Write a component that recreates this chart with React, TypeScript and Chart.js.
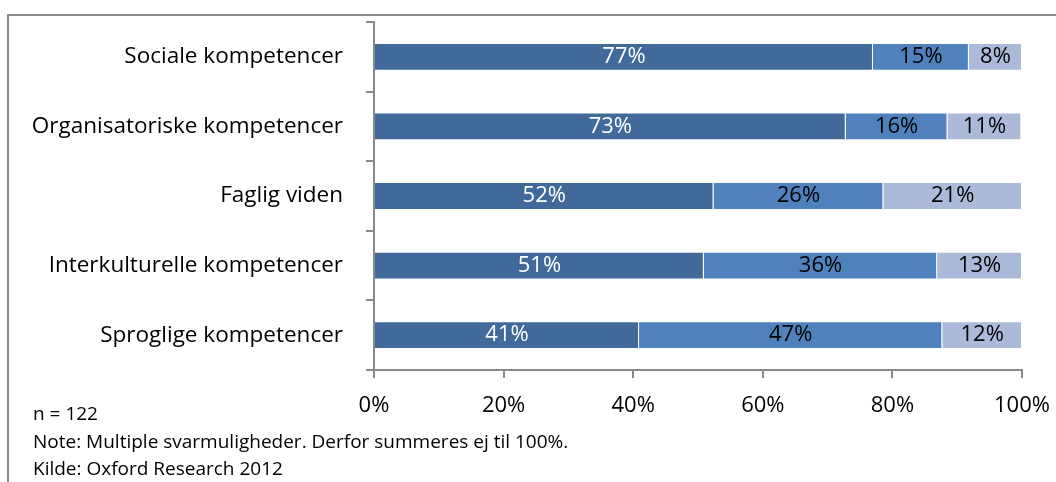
import React, { useEffect, useRef } from "react";
import { Chart, registerables } from "chart.js";

Chart.register(...registerables);

const categories = [
  "Sociale kompetencer",
  "Organisatoriske kompetencer",
  "Faglig viden",
  "Interkulturelle kompetencer",
  "Sproglige kompetencer",
];
const seriesA = [77.0, 72.8, 52.4, 50.9, 40.9];
const seriesB = [14.8, 15.7, 26.2, 36.0, 46.8];
const seriesC = [8.2, 11.4, 21.4, 13.1, 12.3];
const xTicks = [0, 20, 40, 60, 80, 100];
const footnotes = [
  "n = 122",
  "Note: Multiple svarmuligheder. Derfor summeres ej til 100%.",
  "Kilde: Oxford Research 2012",
];

const FONT = "'Open Sans', 'Liberation Sans', sans-serif";
const AXIS = "#8a8a8a";

const labelPlugin = {
  id: "segLabels",
  afterDatasetsDraw(chart: any) {
    const ctx = chart.ctx;
    ctx.save();
    ctx.font = `22px ${FONT}`;
    ctx.textAlign = "center";
    ctx.textBaseline = "middle";
    chart.data.datasets.forEach((ds: any, di: number) => {
      const meta = chart.getDatasetMeta(di);
      meta.data.forEach((el: any, i: number) => {
        const v = ds.data[i];
        const cx = (el.x + el.base) / 2;
        ctx.fillStyle = di === 0 ? "#ffffff" : "#000000";
        ctx.fillText(Math.round(v) + "%", cx, el.y);
      });
    });
    ctx.restore();
  },
};

export default function App() {
  const ref = useRef<HTMLCanvasElement | null>(null);
  useEffect(() => {
    if (!ref.current) return;
    const chart = new Chart(ref.current, {
      type: "bar",
      data: {
        labels: categories,
        datasets: [
          { data: seriesA, backgroundColor: "#416A9B", borderColor: "rgba(255,255,255,0.45)", borderWidth: 1, barPercentage: 0.4, categoryPercentage: 1 },
          { data: seriesB, backgroundColor: "#4F81BD", borderColor: "rgba(255,255,255,0.45)", borderWidth: 1, barPercentage: 0.4, categoryPercentage: 1 },
          { data: seriesC, backgroundColor: "#AABAD8", borderColor: "rgba(255,255,255,0.45)", borderWidth: 1, barPercentage: 0.4, categoryPercentage: 1 },
        ],
      },
      options: {
        indexAxis: "y",
        animation: false,
        responsive: false,
        maintainAspectRatio: false,
        layout: { padding: { left: 0, right: 34, top: 22, bottom: 0 } },
        plugins: { legend: { display: false }, tooltip: { enabled: false } },
        scales: {
          x: {
            stacked: true,
            min: 0,
            max: 100,
            afterBuildTicks: (s: any) => {
              s.ticks = xTicks.map((v) => ({ value: v }));
            },
            afterFit: (s: any) => {
              s.height = 112;
              s.paddingLeft = 0;
              s.paddingRight = 0;
            },
            ticks: {
              callback: (v: any) => v + "%",
              color: "#000",
              font: { family: FONT, size: 22 },
              padding: 15,
              maxRotation: 0,
            },
            grid: { drawOnChartArea: false, drawTicks: true, tickLength: 8, color: AXIS, lineWidth: 2 },
            border: { display: true, color: AXIS, width: 2 },
          },
          y: {
            stacked: true,
            afterFit: (s: any) => {
              s.width = 374;
              s.paddingTop = 0;
              s.paddingBottom = 0;
            },
            ticks: {
              color: "#000",
              font: { family: FONT, size: 22.5 },
              padding: 23,
            },
            grid: { drawOnChartArea: false, drawTicks: true, tickLength: 8, color: AXIS, lineWidth: 2, offset: true },
            border: { display: true, color: AXIS, width: 2 },
          },
        },
      },
      plugins: [labelPlugin],
    });
    return () => chart.destroy();
  }, []);

  return (
    <div style={{ position: "absolute", left: 0, top: 0, width: 1056, height: 482, background: "#fff", overflow: "hidden" }}>
      <div
        style={{
          position: "absolute",
          left: 7,
          top: 14,
          width: 1060,
          height: 480,
          borderTop: `2px solid ${AXIS}`,
          borderLeft: `2px solid ${AXIS}`,
        }}
      />
      <canvas ref={ref} width={1056} height={482} style={{ position: "absolute", left: 0, top: 0 }} />
      {footnotes.map((t, i) => (
        <div
          key={i}
          style={{
            position: "absolute",
            left: 33,
            top: [401, 429, 456][i],
            fontFamily: FONT,
            fontSize: 19,
            color: "#000",
            whiteSpace: "nowrap",
            lineHeight: "24px",
          }}
        >
          {t}
        </div>
      ))}
    </div>
  );
}
